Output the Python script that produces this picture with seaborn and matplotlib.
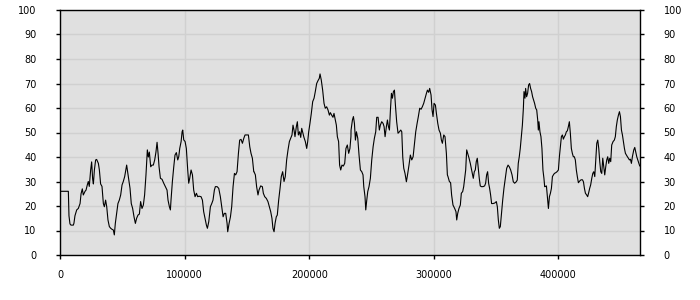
import numpy as np
import pandas as pd
import matplotlib
matplotlib.use("Agg")
import matplotlib.pyplot as plt
import seaborn as sns

# x in thousands
x1 = [0, 6.7, 7.2, 8.0, 8.8, 10.7, 11.2, 12.0, 13.4, 14.7, 16.1, 16.9, 17.9, 18.7, 20.1, 20.9, 21.9, 22.7, 23.5, 24.6,
      25.4, 26.2, 26.8, 27.6, 28.6, 29.4, 30.8, 31.6, 32.6, 33.7, 34.8, 35.6, 36.6, 37.5, 38.5, 39.6, 40.7, 41.7, 42.8, 43.6,
      44.4, 45.5, 46.5, 47.6, 48.7, 49.8, 50.8, 51.9, 53.0, 53.5, 54.3, 55.4, 56.2, 57.2, 58.3, 59.4, 60.5, 61.5, 62.6, 63.7,
      64.7, 65.8, 66.9, 67.9, 69.0, 70.1, 70.9, 71.7, 72.8, 73.8, 74.9, 76.0, 77.0, 77.8]
y1 = [26, 26, 16, 12.7, 12.2, 12.2, 13, 16, 18.4, 19, 21, 25, 27, 24.5, 26, 26.5, 28.6, 30, 28, 34.7,
      38, 31, 29, 34.7, 38.8, 39, 37.4, 34.7, 29, 28, 21, 19.7, 22.4, 19.7, 14.3, 11.6, 10.9, 10.5, 10.2, 8.2,
      12.9, 17, 21, 22.4, 24.5, 28.6, 30, 32, 35.4, 36.7, 34, 30, 27.2, 21, 19, 15.6, 12.9, 15, 16.3, 16.7,
      21.8, 19, 20.4, 24.5, 32.7, 42.9, 40, 42, 36, 36.7, 36.7, 38.8, 42, 45.6]

x2 = [77.9, 78.7, 79.5, 80.6, 81.9, 83.25, 84.6, 85.9, 86.7, 87.8, 88.6, 89.1, 90.2, 91.3, 92.3, 93.4, 94.5, 95.3, 96.1, 97.2,
      98.0, 98.5, 99.3, 100.4, 101.4, 102.5, 103.3, 104.1, 105.2, 106.3, 107.3, 108.4, 109.5, 110.5, 111.6, 113.2, 114.3, 115.3, 116.4, 117.5,
      118.3, 119.4, 120.7, 121.8, 122.8, 123.9, 124.7, 126.1, 127.4, 128.7, 129.8, 130.9, 131.9, 133.0, 134.1, 134.6, 135.7, 136.8, 137.8, 138.9,
      140.0, 141.0, 142.1, 143.2, 144.2, 145.3, 146.4, 147.5, 148.5, 150.1, 151.2, 152.3, 153.3, 154.4, 155.5]
y2 = [46, 41.5, 36, 31.3, 30.9, 29.3, 27.9, 26.5, 22.4, 19.7, 18.4, 22.4, 30, 36, 40.8, 41.8, 38.8, 40.1, 43.5, 46.3,
      50.3, 51, 47, 46.3, 43.5, 34.7, 29.3, 31.3, 34.7, 32.7, 26.5, 23.8, 25.2, 23.8, 24, 23.8, 22.4, 17.7, 15, 12.2,
      10.9, 13.6, 19.7, 21, 22.4, 26.5, 27.9, 27.9, 27.2, 23.8, 19.7, 15.6, 17, 17, 12.9, 9.5, 12.9, 15.6, 19.7, 27.9,
      33.3, 32.7, 34, 41.5, 46.9, 47.2, 45.6, 47.6, 49, 49, 49, 44.2, 41.5, 39.5, 34]

x3 = [155.7, 156.8, 157.8, 158.9, 159.7, 161.05, 162.4, 163.2, 164.3, 165.6, 166.9, 168.0, 169.1, 170.1, 170.9, 171.8, 172.6, 173.6, 174.4, 175.5,
      176.6, 177.6, 178.7, 179.8, 180.8, 181.9, 183.0, 184.1, 185.1, 186.2, 187.0, 187.8, 188.6, 189.7, 190.5, 191.3, 192.3, 193.2, 194.0, 195.0,
      195.8, 196.9, 198.0, 198.8, 199.6, 200.6, 201.7, 202.8, 203.9, 204.9, 206.0, 207.1, 208.1, 208.7, 209.7, 210.8, 211.9, 212.9, 214.0, 215.1,
      216.2, 217.0, 218.0, 219.1, 219.9, 221.0, 221.8, 222.6, 223.6, 224.4, 225.3, 226.3, 227.4, 228.5, 229.5, 230.6, 231.7, 232.7, 233.5]
y3 = [34, 32.7, 27.9, 24.5, 26.5, 28.2, 27.9, 25.2, 23.8, 23.1, 21.8, 19.7, 17.7, 15, 10.9, 9.5, 12.9, 15.6, 16.3, 22.4,
      27.2, 32, 34, 30, 32, 38.8, 42.9, 46.3, 47.6, 49, 53, 51, 48.3, 52.4, 54.4, 49, 50.3, 48, 51.7, 49.7,
      48, 46.3, 43.5, 46.3, 50.3, 53.7, 57.8, 62.6, 64, 66.7, 70, 71.2, 72.1, 73.9, 71.4, 67.3, 61.9, 59.9, 60.5, 59.2,
      57.1, 58.1, 57.1, 56.2, 57.8, 55.1, 53, 48.3, 46.3, 36.7, 34.7, 36.7, 36.3, 37.4, 43.5, 44.9, 41.5, 43.5, 48.3]

x4 = [233.6, 234.7, 235.5, 236.3, 237.1, 237.9, 239.0, 240.0, 241.1, 242.2, 243.2, 243.8, 244.8, 245.4, 246.2, 247.0, 248.0, 249.1, 250.2, 251.3,
      252.3, 253.4, 254.2, 255.3, 256.3, 257.1, 258.2, 259.3, 260.1, 260.9, 261.96, 262.8, 263.6, 264.4, 265.2, 266.0, 266.8, 267.6, 268.4, 269.2,
      270.2, 271.3, 272.4, 273.5, 274.3, 275.1, 275.9, 276.9, 278.0, 279.1, 280.1, 281.2, 282.3, 283.4, 284.4, 285.5, 286.6, 287.6, 288.7, 289.8,
      290.8, 291.9, 293.0, 294.1, 294.9, 295.9, 296.7, 297.8, 298.6, 299.4, 300.2, 301.3, 302.1, 303.2, 304.2, 305.3, 306.1, 306.9, 308.0, 309.0,
      310.1, 310.9]
y4 = [51, 55.1, 56.5, 53.7, 46.9, 50.3, 47.6, 40.8, 34.7, 34, 32.7, 27.9, 23.8, 18.4, 22.4, 25.9, 27.9, 31.3, 38.8, 44.2,
      47.6, 50.3, 56.2, 56.2, 51, 53, 54.4, 53.7, 52.4, 48.3, 52.4, 55.1, 52.4, 51, 59.2, 66, 64, 66.7, 67.3, 61.2,
      54.4, 49.7, 50.3, 51, 50.3, 39.9, 35.4, 33.3, 29.9, 33.3, 36.7, 40.8, 38.8, 40.1, 44.9, 50.3, 53.7, 56.5, 59.9, 59.5,
      60.5, 61.9, 64, 66, 67.3, 66.4, 68, 65.3, 59.2, 56.5, 61.9, 61.2, 57.8, 53.7, 51, 49.7, 46.9, 45.6, 49, 48.3,
      41.5, 32.7]

x5 = [311.4, 312.5, 313.5, 314.3, 315.4, 316.75, 317.8, 318.4, 319.2, 320.2, 321.3, 322.1, 323.2, 324.0, 324.8, 325.6, 326.4, 327.2, 328.3, 329.3,
      330.1, 330.9, 331.7, 332.5, 333.3, 334.1, 334.9, 335.7, 336.5, 337.3, 338.2, 339.5, 340.8, 341.6, 342.4, 343.2, 344.0, 344.8, 345.6, 346.4,
      347.5, 348.9, 350.2, 351.0, 351.8, 352.6, 353.4, 354.2, 355.3, 356.3, 357.4, 358.5, 359.6, 360.6, 361.7, 362.8, 363.8, 364.9, 366.2, 367.0,
      367.8, 368.6, 369.4, 370.3, 371.1, 371.9, 372.4, 373.2, 373.7, 374.5, 375.3, 376.1, 376.9, 377.7, 378.5, 379.3, 380.1, 380.9, 381.8, 382.6,
      383.4, 383.9, 384.4, 385.2, 386.0, 386.8, 387.6, 388.4, 389.0]
y5 = [32, 30, 29.5, 24.5, 20.4, 19, 17.7, 14.3, 17, 19, 20.4, 25.2, 25.9, 27.9, 31.3, 34.7, 42.9, 41.5, 39.5, 37.4,
      35.4, 33.3, 31.3, 34, 34.7, 38.1, 39.5, 35.4, 31.3, 28.2, 27.9, 27.9, 28.2, 29.3, 32.7, 34, 29.3, 27.2, 24.5, 21,
      21, 21.2, 21.8, 19.7, 14.3, 10.9, 11.6, 16.3, 22.4, 27.2, 31.3, 35.4, 36.7, 36, 34.7, 32.7, 29.9, 29.3, 29.9, 30.6,
      37.4, 40.1, 43.5, 48.3, 53, 59.9, 66.7, 64, 68, 64.6, 66, 69.4, 70, 68, 66.7, 64.6, 63.3, 61.9, 59.9, 59.2,
      55.1, 51, 54.4, 50.3, 48.3, 43.5, 34.7, 31.3, 27.9]

x6 = [389.3, 390.4, 391.2, 392.0, 392.8, 393.6, 394.4, 395.2, 396.0, 396.8, 397.9, 398.9, 400.0, 400.8, 401.6, 402.4, 403.2, 404.0, 404.8, 405.6,
      406.4, 407.2, 408.0, 408.8, 409.6, 410.4, 411.2, 412.0, 412.8, 413.6, 414.4, 415.2, 416.05, 417.1, 418.2, 419.3, 420.1, 420.9, 421.7, 422.7,
      423.5, 424.3, 425.1, 425.9, 426.8, 427.6, 428.4, 429.2, 430.0, 430.8, 431.6, 432.4, 433.2, 434.0, 434.8, 435.6, 436.4, 437.2, 438.0, 438.8,
      439.6, 440.4, 441.2, 442.0, 442.8, 443.9, 444.9, 445.7, 446.5, 447.3, 448.2, 449.0, 449.8, 450.6, 451.4, 452.2, 453.0, 453.8, 454.6, 455.4,
      456.2, 457.0, 457.8, 458.6, 459.4, 460.5, 461.3, 462.1, 462.9, 463.7, 464.5, 465.3]
y6 = [27.9, 28.2, 23.8, 19, 23.8, 25.2, 27.2, 32, 32.7, 33.3, 33.6, 34, 34.7, 40.1, 44.2, 48.3, 49, 47.3, 48.3, 49,
      50.3, 50.7, 52.4, 54.4, 49.7, 43.5, 41.5, 40.1, 40.1, 38.8, 34.7, 32, 29.5, 30.2, 30.7, 30.7, 29.9, 27.2, 25.2, 24.5,
      23.8, 25.4, 27.2, 28.6, 31.3, 33.3, 34, 32, 38.8, 45.6, 46.9, 43.5, 38.1, 34, 33.3, 39.5, 36, 32.7, 36, 38.8,
      40.1, 37.4, 39.5, 38.1, 44.9, 46.3, 46.9, 48.3, 52.4, 55.1, 57.1, 58.5, 56.5, 51, 49, 46.3, 43.5, 41.5, 40.8, 40.1,
      39.5, 38.8, 39.1, 37.4, 40.1, 42.9, 43.9, 42, 40.1, 38.8, 37.4, 36.3]

x_ticks = [0, 100000, 200000, 300000, 400000]
y_ticks = [0, 10, 20, 30, 40, 50, 60, 70, 80, 90, 100]

xs = []
ys = []
for a, b in [(x1, y1), (x2, y2), (x3, y3), (x4, y4), (x5, y5), (x6, y6)]:
    assert len(a) == len(b), (len(a), len(b))
    xs += [v * 1000 for v in a]
    ys += b
df = pd.DataFrame({"x": xs, "y": ys})

sns.set_style("white", {"axes.facecolor": "#e0e0e0"})
plt.rcParams["font.family"] = ["DejaVu Sans"]

fig = plt.figure(figsize=(7, 3), dpi=100)
ax = fig.add_axes([60 / 700, 45 / 300, 580 / 700, 245 / 300])
ax.set_facecolor("#e0e0e0")
sns.lineplot(data=df, x="x", y="y", ax=ax, color="black", linewidth=0.8, sort=False, estimator=None)

ax.set_xlim(0, 465500)
ax.set_ylim(0, 100)
ax.set_xticks(x_ticks)
ax.set_xticklabels([str(t) for t in x_ticks])
ax.set_yticks(y_ticks)
ax.set_yticklabels([str(t) for t in y_ticks])
ax.grid(True, color="#d0d0d0", linewidth=1)
ax.set_axisbelow(True)
ax.set_xlabel("")
ax.set_ylabel("")
for s in ax.spines.values():
    s.set_visible(True)
    s.set_color("black")
    s.set_linewidth(1)
ax.tick_params(axis="both", which="both", direction="out", length=3, width=1, color="black",
               labelsize=7, labelcolor="black")
ax.tick_params(axis="y", left=True, right=True, labelleft=True, labelright=True, pad=14)
ax.tick_params(axis="x", bottom=True, pad=8)

fig.savefig("out.png", dpi=100)
